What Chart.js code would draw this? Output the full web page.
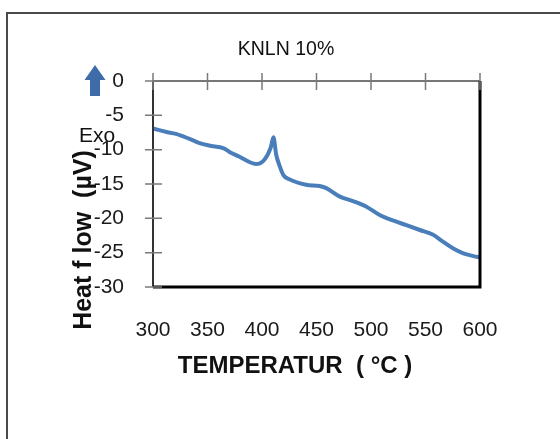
<!DOCTYPE html>
<html>
<head>
<meta charset="utf-8">
<script src="https://cdn.jsdelivr.net/npm/chart.js@4.4.1/dist/chart.umd.min.js"></script>
<style>
  html, body { margin: 0; padding: 0; background: #fff; }
  #chart { display: block; }
</style>
</head>
<body>
<canvas id="chart" width="560" height="439"></canvas>
<script>
// DSC curve
const temps = [300, 311.6, 321, 333, 342, 351.5, 365, 371, 379, 388.5, 394.5, 402, 408, 410.5,
               413, 416, 419.6, 425, 440.5, 452.8, 459, 471, 483.5, 495.8, 508, 520, 532.5,
               544.8, 557, 566, 575.5, 584.7, 594, 600];
const heatFlow = [-6.9, -7.4, -7.7, -8.4, -9.0, -9.4, -9.8, -10.4, -11.0, -11.8, -12.1, -11.5, -9.7, -8.2,
                  -10.7, -12.3, -13.7, -14.3, -15.1, -15.3, -15.6, -16.8, -17.5, -18.3, -19.5, -20.3, -21.0,
                  -21.7, -22.4, -23.4, -24.4, -25.1, -25.5, -25.7];
const xTicks = [300, 350, 400, 450, 500, 550, 600];
const yTicks = [0, -5, -10, -15, -20, -25, -30];

const chartTitle = "KNLN 10%";
const xTitle = "TEMPERATUR  ( °C )";
const yTitle = "Heat f low  (µV)";
const exoLabel = "Exo";

const FONT = "'Liberation Sans', Arial, sans-serif";

const decorations = {
    id: "decorations",
    beforeDraw(chart) {
        const c = chart.ctx;
        c.save();
        c.fillStyle = "#fff";
        c.fillRect(0, 0, chart.width, chart.height);
        // outer frame (only top and left visible)
        c.strokeStyle = "#4a4a4a";
        c.lineWidth = 2;
        c.beginPath();
        c.moveTo(7, chart.height);
        c.lineTo(7, 13);
        c.lineTo(chart.width, 13);
        c.stroke();
        c.restore();
    },
    afterDraw(chart) {
        const c = chart.ctx;
        const a = chart.chartArea;
        const xs = chart.scales.x, ys = chart.scales.y;
        c.save();

        // plot border
        c.lineWidth = 2;
        c.strokeStyle = "#777";
        c.beginPath();
        c.moveTo(a.left, a.top);
        c.lineTo(a.right, a.top);
        c.stroke();
        c.strokeStyle = "#333";
        c.beginPath();
        c.moveTo(a.left, a.top);
        c.lineTo(a.left, a.bottom);
        c.stroke();
        c.lineWidth = 3;
        c.strokeStyle = "#000";
        c.beginPath();
        c.moveTo(a.left, a.bottom);
        c.lineTo(a.right, a.bottom);
        c.lineTo(a.right, a.top);
        c.stroke();

        // tick marks crossing the axes
        c.lineWidth = 1.5;
        c.strokeStyle = "#7a7a7a";
        c.beginPath();
        xTicks.forEach(t => {
            const px = xs.getPixelForValue(t);
            c.moveTo(px, a.top - 8);
            c.lineTo(px, a.top + 9);
        });
        yTicks.forEach(t => {
            const py = ys.getPixelForValue(t);
            c.moveTo(a.left - 8, py);
            c.lineTo(a.left + 9, py);
        });
        c.stroke();

        // title
        c.fillStyle = "#111";
        c.textAlign = "center";
        c.textBaseline = "middle";
        c.font = "19.5px " + FONT;
        c.fillText(chartTitle, 286, 50);

        // x axis title
        c.font = "bold 24px " + FONT;
        c.fillText(xTitle, 295, 366);

        // y axis title
        c.save();
        c.translate(84, 240);
        c.rotate(-Math.PI / 2);
        c.font = "bold 25px " + FONT;
        c.fillText(yTitle, 0, 0);
        c.restore();

        // "Exo" marker with arrow
        c.font = "21px " + FONT;
        c.fillText(exoLabel, 97, 136);

        c.fillStyle = "#3d6ca8";
        c.beginPath();
        c.moveTo(95, 65);
        c.lineTo(105.5, 80);
        c.lineTo(100, 80);
        c.lineTo(100, 96);
        c.lineTo(90, 96);
        c.lineTo(90, 80);
        c.lineTo(84.5, 80);
        c.closePath();
        c.fill();

        c.restore();
    }
};

new Chart(document.getElementById("chart"), {
    type: "line",
    data: {
        datasets: [{
            data: temps.map((t, i) => ({ x: t, y: heatFlow[i] })),
            borderColor: "#4a7ebb",
            borderWidth: 4,
            pointRadius: 0,
            fill: false,
            cubicInterpolationMode: "monotone"
        }]
    },
    options: {
        responsive: false,
        animation: false,
        devicePixelRatio: 1,
        layout: { padding: { top: 81, right: 80, left: 0, bottom: 0 } },
        plugins: { legend: { display: false }, tooltip: { enabled: false } },
        scales: {
            x: {
                type: "linear",
                min: 300,
                max: 600,
                afterBuildTicks: s => { s.ticks = xTicks.map(v => ({ value: v })); },
                afterFit: s => { s.height = 152; },
                grid: { display: false },
                border: { display: false },
                ticks: { color: "#1a1a1a", padding: 23, maxRotation: 0, font: { size: 21, family: FONT } }
            },
            y: {
                type: "linear",
                min: -30,
                max: 0,
                afterBuildTicks: s => { s.ticks = yTicks.map(v => ({ value: v })); },
                afterFit: s => { s.width = 153; },
                grid: { display: false },
                border: { display: false },
                ticks: { color: "#1a1a1a", padding: 21, font: { size: 21, family: FONT } }
            }
        }
    },
    plugins: [decorations]
});
</script>
</body>
</html>
